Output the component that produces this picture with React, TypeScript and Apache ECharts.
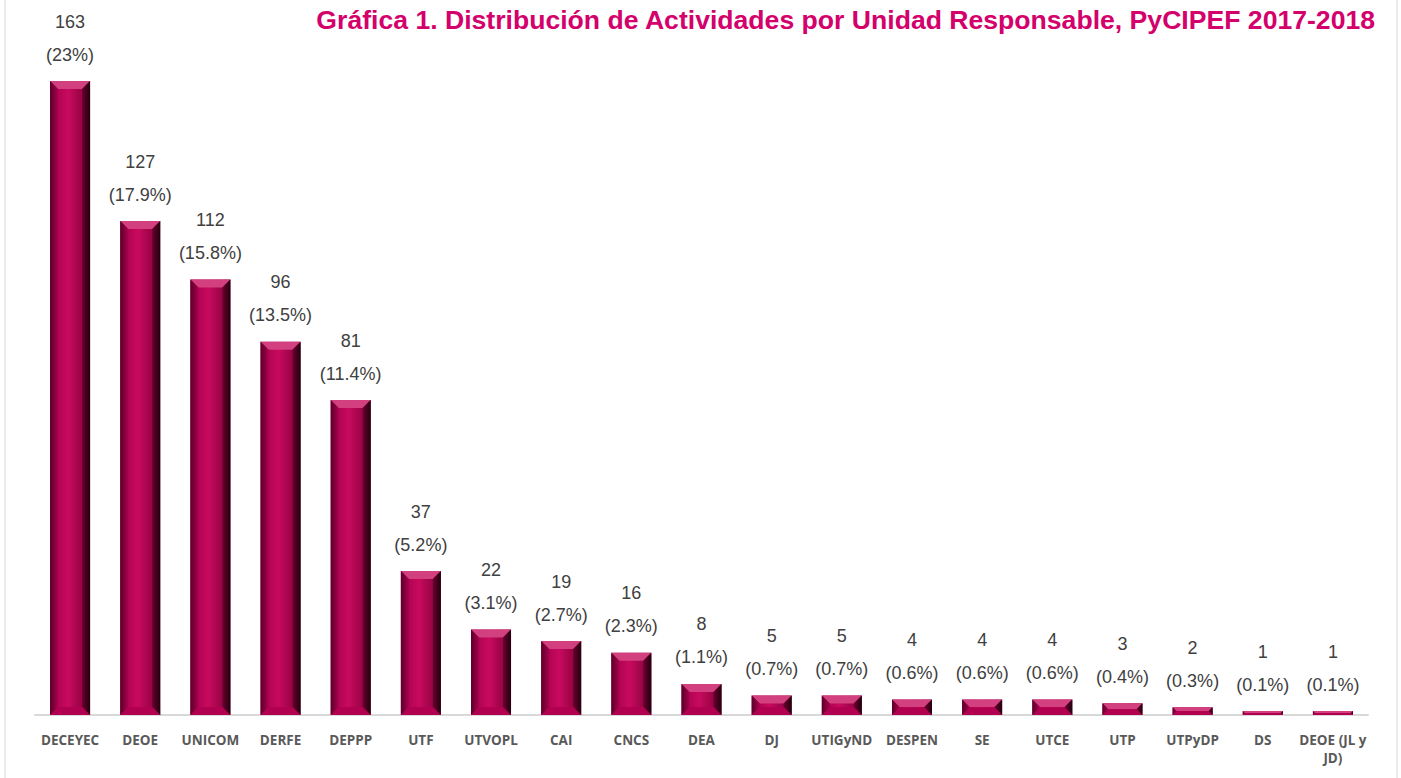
import React, { useEffect, useRef } from "react";
import * as echarts from "echarts";

const categories = [
  "DECEYEC", "DEOE", "UNICOM", "DERFE", "DEPPP", "UTF", "UTVOPL", "CAI", "CNCS", "DEA",
  "DJ", "UTIGyND", "DESPEN", "SE", "UTCE", "UTP", "UTPyDP", "DS", "DEOE (JL y\nJD)",
];
const values = [163, 127, 112, 96, 81, 37, 22, 19, 16, 8, 5, 5, 4, 4, 4, 3, 2, 1, 1];
const percents = ["23%", "17.9%", "15.8%", "13.5%", "11.4%", "5.2%", "3.1%", "2.7%", "2.3%", "1.1%",
  "0.7%", "0.7%", "0.6%", "0.6%", "0.6%", "0.4%", "0.3%", "0.1%", "0.1%"];
const titleText = "Gráfica 1. Distribución de Actividades por Unidad Responsable, PyCIPEF 2017-2018";

export default function App() {
  const ref = useRef<HTMLDivElement>(null);
  useEffect(() => {
    if (!ref.current) return;
    const chart = echarts.init(ref.current, null, { renderer: "svg" });
    const barW = 40;
    const renderItem = (params: any, api: any) => {
      const idx = api.value(0);
      const v = api.value(1);
      const top = api.coord([idx, v]);
      const base = api.coord([idx, 0]);
      const x0 = top[0] - barW / 2;
      const x1 = top[0] + barW / 2;
      const y0 = top[1];
      const yb = base[1];
      const h = yb - y0;
      const b = Math.min(8, h / 2);
      const face = new echarts.graphic.LinearGradient(0, 0, 1, 0, [
        { offset: 0, color: "#a0004a" },
        { offset: 0.45, color: "#c80a5e" },
        { offset: 1, color: "#7a0036" },
      ]);
      return {
        type: "group",
        children: [
          { type: "rect", shape: { x: x0, y: y0, width: barW, height: h }, style: { fill: face } },
          {
            type: "polygon",
            shape: { points: [[x0, y0], [x1, y0], [x1 - b, y0 + b], [x0 + b, y0 + b]] },
            style: { fill: "#d2407f" },
          },
          {
            type: "polygon",
            shape: { points: [[x0, y0], [x0 + b, y0 + b], [x0 + b, yb - b], [x0, yb]] },
            style: {
              fill: new echarts.graphic.LinearGradient(0, 0, 1, 0, [
                { offset: 0, color: "#5a0028" },
                { offset: 1, color: "#a8004e" },
              ]),
            },
          },
          {
            type: "polygon",
            shape: { points: [[x1, y0], [x1, yb], [x1 - b, yb - b], [x1 - b, y0 + b]] },
            style: {
              fill: new echarts.graphic.LinearGradient(0, 0, 1, 0, [
                { offset: 0, color: "#6a002e" },
                { offset: 1, color: "#25000e" },
              ]),
            },
          },
          {
            type: "polygon",
            shape: { points: [[x0, yb], [x0 + b, yb - b], [x1 - b, yb - b], [x1, yb]] },
            style: { fill: "#b0004f" },
          },
        ],
      };
    };
    chart.setOption({
      animation: false,
      backgroundColor: "#ffffff",
      title: {
        text: titleText,
        right: 20,
        top: 1,
        textStyle: { color: "#d4006b", fontSize: 26.6, fontWeight: "bold", fontFamily: "Liberation Sans, Arial, sans-serif" },
      },
      grid: { left: 35, right: 33, top: 15, bottom: 63, containLabel: false },
      xAxis: {
        type: "category",
        data: categories,
        axisLine: { lineStyle: { color: "#d9d9d9", width: 2 } },
        axisTick: { show: false },
        axisLabel: {
          interval: 0,
          color: "#595959",
          fontWeight: "bold",
          fontSize: 13.5,
          margin: 16,
          lineHeight: 18,
          fontFamily: "Open Sans, Lato, sans-serif",
        },
      },
      yAxis: { type: "value", min: 0, max: 180, show: false, splitLine: { show: false } },
      graphic: [
        { type: "line", shape: { x1: 5, y1: 0, x2: 5, y2: 778 }, style: { stroke: "#d9d9d9", lineWidth: 1 } },
        { type: "line", shape: { x1: 1397, y1: 0, x2: 1397, y2: 778 }, style: { stroke: "#d9d9d9", lineWidth: 1 } },
      ],
      series: [
        {
          type: "custom",
          renderItem,
          data: values.map((v, i) => [i, v]),
          encode: { x: 0, y: 1 },
          z: 2,
        },
        {
          type: "bar",
          data: values,
          barWidth: barW,
          itemStyle: { color: "rgba(0,0,0,0)" },
          z: 3,
          label: {
            show: true,
            position: "top",
            distance: 10,
            color: "#404040",
            fontSize: 18,
            lineHeight: 33,
            fontFamily: "Liberation Sans, Arial, sans-serif",
            formatter: (p: any) => `${values[p.dataIndex]}\n(${percents[p.dataIndex]})`,
          },
        },
      ],
    });
    return () => chart.dispose();
  }, []);
  return (
    <div
      ref={ref}
      style={{ position: "fixed", left: 0, top: 0, width: 1401, height: 778, background: "#fff" }}
    />
  );
}
